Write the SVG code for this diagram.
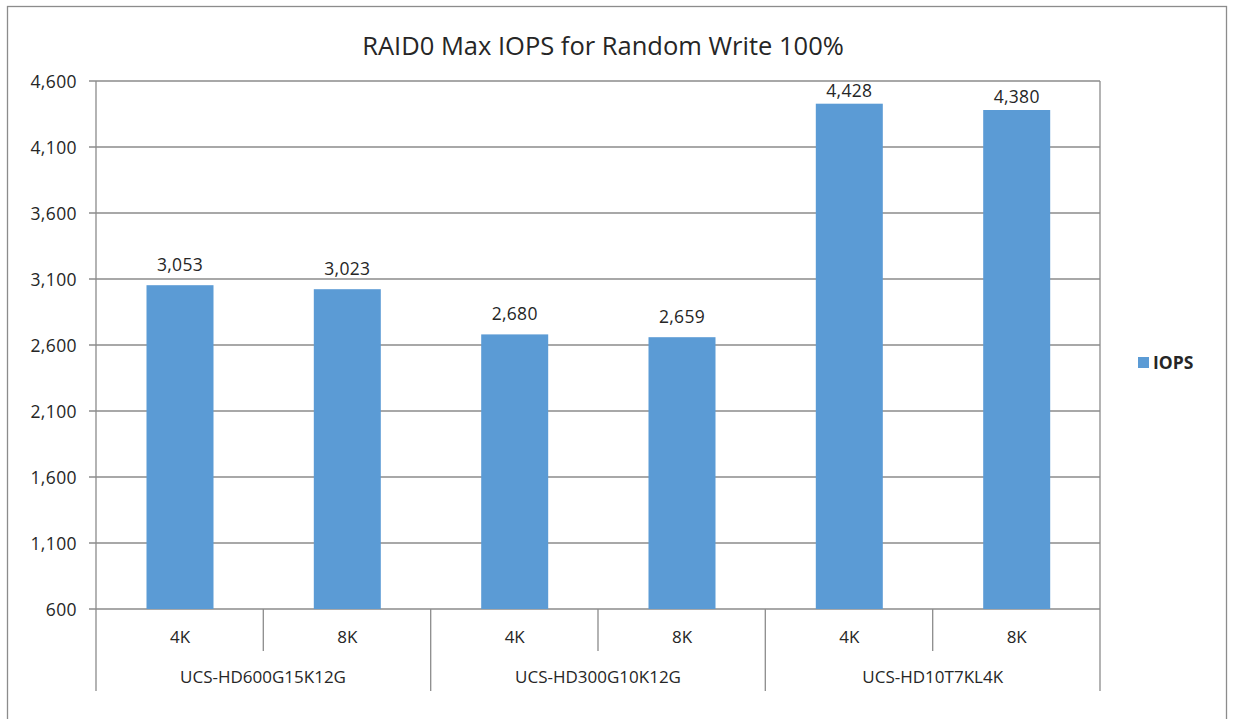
<svg xmlns="http://www.w3.org/2000/svg" width="1233" height="719" viewBox="0 0 1233 719">
<style>
.t{font-family:"Open Sans","Lato",sans-serif;fill:#262626}
.ax{font-size:17.5px;text-anchor:end;letter-spacing:0.4px}
.dl{font-size:17.5px;text-anchor:middle;letter-spacing:0.3px}
.cat{font-size:17px;text-anchor:middle}
.g{stroke:#8c8c8c;stroke-width:1.3;fill:none}
.bar{fill:#5B9BD5}
</style>
<rect x="7.5" y="6.5" width="1219" height="720" fill="#fff" stroke="#8c8c8c" stroke-width="1.3"/>
<text class="t" x="603" y="55" font-size="25.5" text-anchor="middle">RAID0 Max IOPS for Random Write 100%</text>
<g id="gridlines">
<path class="g" d="M89 81H1100M89 147H1100M89 213H1100M89 279H1100M89 345H1100M89 411H1100M89 477H1100M89 543H1100M89 609H1100"/>
<path class="g" d="M96 81V691M1100 81V691"/>
<path class="g" d="M263.3 609V651M598 609V651M932.7 609V651M430.7 609V691M765.3 609V691"/>
</g>
<g id="yaxis">
<text class="t ax" x="77" y="87.5">4,600</text>
<text class="t ax" x="77" y="153.5">4,100</text>
<text class="t ax" x="77" y="219.5">3,600</text>
<text class="t ax" x="77" y="285.5">3,100</text>
<text class="t ax" x="77" y="351.5">2,600</text>
<text class="t ax" x="77" y="417.5">2,100</text>
<text class="t ax" x="77" y="483.5">1,600</text>
<text class="t ax" x="77" y="549.5">1,100</text>
<text class="t ax" x="77" y="615.5">600</text>
</g>
<g id="bar1"><rect class="bar" x="146.5" y="285.2" width="67" height="323.8"/><text class="t dl" x="180" y="271">3,053</text></g>
<g id="bar2"><rect class="bar" x="313.8" y="289.2" width="67" height="319.8"/><text class="t dl" x="347.3" y="275">3,023</text></g>
<g id="bar3"><rect class="bar" x="481.2" y="334.4" width="67" height="274.6"/><text class="t dl" x="514.7" y="320">2,680</text></g>
<g id="bar4"><rect class="bar" x="648.5" y="337.2" width="67" height="271.8"/><text class="t dl" x="682" y="323">2,659</text></g>
<g id="bar5"><rect class="bar" x="815.8" y="103.7" width="67" height="505.3"/><text class="t dl" x="849.3" y="97">4,428</text></g>
<g id="bar6"><rect class="bar" x="983.2" y="110.0" width="67" height="499"/><text class="t dl" x="1016.7" y="103">4,380</text></g>
<g id="categories">
<text class="t cat" x="180" y="643">4K</text>
<text class="t cat" x="347.3" y="643">8K</text>
<text class="t cat" x="514.7" y="643">4K</text>
<text class="t cat" x="682" y="643">8K</text>
<text class="t cat" x="849.3" y="643">4K</text>
<text class="t cat" x="1016.7" y="643">8K</text>
<text class="t cat" x="263" y="683">UCS-HD600G15K12G</text>
<text class="t cat" x="598" y="683">UCS-HD300G10K12G</text>
<text class="t cat" x="932.7" y="683">UCS-HD10T7KL4K</text>
</g>
<g id="legend">
<rect class="bar" x="1138" y="357" width="11" height="11"/>
<text class="t" x="1153" y="369" font-size="17.5" font-weight="bold">IOPS</text>
</g>
</svg>
